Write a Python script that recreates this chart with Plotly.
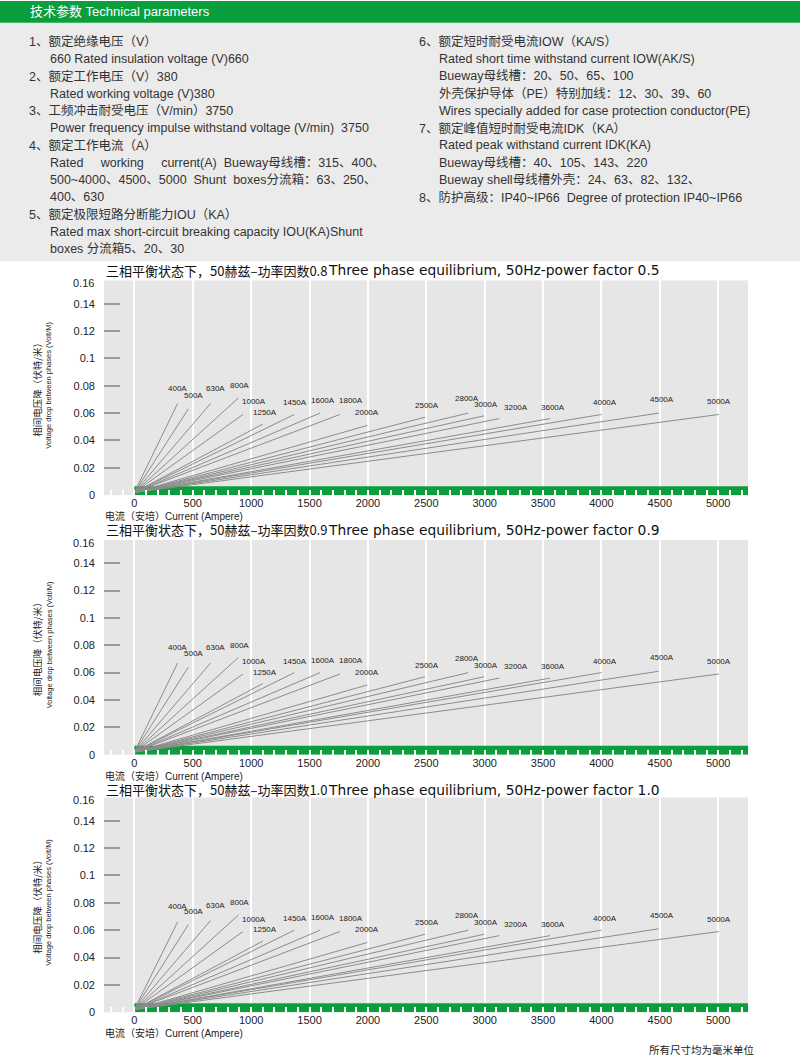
import plotly.graph_objects as go

W, H = 800, 1063

# ---------------- data ----------------
RATINGS = ["400A", "500A", "630A", "800A", "1000A", "1250A", "1450A", "1600A", "1800A",
           "2000A", "2500A", "2800A", "3000A", "3200A", "3600A", "4000A", "4500A", "5000A"]
END_CURRENT = [370, 462, 652, 890, 930, 1100, 1370, 1590, 1760,
               1995, 2490, 2860, 2995, 3125, 3560, 4000, 4490, 5005]
DROP_PF08 = [0.067, 0.063, 0.067, 0.071, 0.059, 0.052, 0.059, 0.060, 0.059,
             0.051, 0.057, 0.060, 0.058, 0.056, 0.056, 0.059, 0.060, 0.059]
DROP_PF09 = [0.067, 0.064, 0.067, 0.071, 0.059, 0.052, 0.060, 0.060, 0.059,
             0.051, 0.057, 0.060, 0.057, 0.056, 0.056, 0.060, 0.061, 0.059]
DROP_PF10 = [0.066, 0.064, 0.067, 0.071, 0.059, 0.052, 0.060, 0.060, 0.059,
             0.051, 0.057, 0.060, 0.057, 0.056, 0.056, 0.060, 0.061, 0.059]
ORIGIN_CURRENT = 0
ORIGIN_DROP = 0.002

X_TICKS = [0, 500, 1000, 1500, 2000, 2500, 3000, 3500, 4000, 4500, 5000]
Y_TICKS = [0, 0.02, 0.04, 0.06, 0.08, 0.1, 0.12, 0.14]
Y_TICK_TEXT = ["0", "0.02", "0.04", "0.06", "0.08", "0.1", "0.12", "0.14"]
Y_TOP_LABEL = "0.16"

CHART_TITLES_CN = ["三相平衡状态下，50赫兹–功率因数0.8", "三相平衡状态下，50赫兹–功率因数0.9",
                   "三相平衡状态下，50赫兹–功率因数1.0"]
CHART_TITLES_EN = ["Three phase equilibrium, 50Hz-power factor 0.5",
                   "Three phase equilibrium, 50Hz-power factor 0.9",
                   "Three phase equilibrium, 50Hz-power factor 1.0"]
Y_TITLE_CN = "相间电压降（伏特/米）"
Y_TITLE_EN = "Voltage drop between phases (Volt/M)"
X_TITLE = "电流（安培）Current (Ampere)"

HEADER = "技术参数 Technical parameters"
NB = "\u00a0"
LEFT_TEXT = [
    ("1、额定绝缘电压（V）", 0),
    ("660 Rated insulation voltage (V)660", 1),
    ("2、额定工作电压（V）380", 0),
    ("Rated working voltage (V)380", 1),
    ("3、工频冲击耐受电压（V/min）3750", 0),
    ("Power frequency impulse withstand voltage (V/min)" + NB * 2 + "3750", 1),
    ("4、额定工作电流（A）", 0),
    ("Rated" + NB * 5 + "working" + NB * 5 + "current(A)" + NB * 2 + "Bueway母线槽：315、400、", 1),
    ("500~4000、4500、5000" + NB * 2 + "Shunt" + NB * 2 + "boxes分流箱：63、250、", 1),
    ("400、630", 1),
    ("5、额定极限短路分断能力IOU（KA）", 0),
    ("Rated max short-circuit breaking capacity IOU(KA)Shunt", 1),
    ("boxes 分流箱5、20、30", 1),
]
RIGHT_TEXT = [
    ("6、额定短时耐受电流IOW（KA/S）", 0),
    ("Rated short time withstand current IOW(AK/S)", 1),
    ("Bueway母线槽：20、50、65、100", 1),
    ("外壳保护导体（PE）特别加线：12、30、39、60", 1),
    ("Wires specially added for case protection conductor(PE)", 1),
    ("7、额定峰值短时耐受电流IDK（KA）", 0),
    ("Rated peak withstand current IDK(KA)", 1),
    ("Bueway母线槽：40、105、143、220", 1),
    ("Bueway shell母线槽外壳：24、63、82、132、", 1),
    ("8、防护高级：IP40~IP66" + NB * 2 + "Degree of protection IP40~IP66", 0),
]
FOOTNOTE = "所有尺寸均为毫米单位"

# ---------------- style / layout ----------------
GREEN = "#0b9e3d"
PLOT_GRAY = "#e6e6e6"
BLOCK_GRAY = "#ebebeb"
LINE_GRAY = "#8c8c8c"
TEXT = "#333333"
FONT = "Liberation Sans, Arial, Noto Sans CJK SC, sans-serif"
CJK = "Noto Sans CJK SC, Liberation Sans, sans-serif"

# label offsets (px) relative to line end: (dx, dy up)
LABEL_OFF = [(0, 9), (5, 7), (5, 9), (1, 6), (11, 6), (2, 5), (1, 5), (3, 6), (11, 7),
             (0, 6), (2, 5), (-1, 8), (2, 5), (17, 5), (3, 5), (4, 5), (3, 7), (0, 6)]

X_RANGE = [-260, 5255]
Y_RANGE = [0, 0.157]
PLOT_LEFT, PLOT_RIGHT = 104, 748
CHART_TOPS = [282, 543, 802]
CHART_H = 216
BAR_PX = 9
TITLE_Y = [272, 533, 794]


def px(x):
    return x / W


def py(y):
    return 1 - y / H


fig = go.Figure()
annotations = []
shapes = []

# header + parameter block
shapes.append(dict(type="rect", xref="paper", yref="paper", x0=0, x1=1, y0=py(263), y1=py(23),
                   fillcolor=BLOCK_GRAY, line_width=0, layer="below"))
shapes.append(dict(type="rect", xref="paper", yref="paper", x0=0, x1=1, y0=py(23), y1=py(1),
                   fillcolor=GREEN, line_width=0, layer="below"))
annotations.append(dict(text=HEADER, x=px(28), y=py(12), xref="paper", yref="paper",
                        xanchor="left", yanchor="middle", showarrow=False,
                        font=dict(family=FONT, size=13, color="white")))

for i, (t, ind) in enumerate(LEFT_TEXT):
    annotations.append(dict(text=t, x=px(27 if ind == 0 else 48), y=py(42 + i * 17.35),
                            xref="paper", yref="paper", xanchor="left", yanchor="middle",
                            showarrow=False, font=dict(family=FONT, size=12.5, color=TEXT)))
for i, (t, ind) in enumerate(RIGHT_TEXT):
    annotations.append(dict(text=t, x=px(417 if ind == 0 else 437), y=py(42 + i * 17.35),
                            xref="paper", yref="paper", xanchor="left", yanchor="middle",
                            showarrow=False, font=dict(family=FONT, size=12.5, color=TEXT)))

drops = [DROP_PF08, DROP_PF09, DROP_PF10]
bar_h = BAR_PX / CHART_H * (Y_RANGE[1] - Y_RANGE[0])
for c in range(3):
    n = "" if c == 0 else str(c + 1)
    xa, ya = "x" + n, "y" + n
    top = CHART_TOPS[c]
    bottom = top + CHART_H
    fig.update_layout(**{
        "xaxis" + n: dict(domain=[px(PLOT_LEFT), px(PLOT_RIGHT)], range=X_RANGE, anchor=ya,
                          tickvals=X_TICKS, ticks="inside", ticklen=5, tickcolor="white",
                          tickwidth=1.5, showgrid=True, gridcolor="white", gridwidth=2,
                          zeroline=False, showline=False, layer="above traces",
                          minor=dict(dtick=100, tick0=0, ticks="inside",
                                     ticklen=5, tickcolor="white", tickwidth=1.5, showgrid=False),
                          tickfont=dict(family=FONT, size=11, color="#222"), fixedrange=True),
        "yaxis" + n: dict(domain=[py(bottom), py(top)], range=Y_RANGE, anchor=xa,
                          tickvals=Y_TICKS, ticktext=Y_TICK_TEXT, ticks="inside", ticklen=16,
                          tickcolor="#9a9a9a", tickwidth=1.5, showgrid=False, zeroline=False,
                          showline=False, ticklabelstandoff=8,
                          tickfont=dict(family=FONT, size=11, color="#222"), fixedrange=True),
    })
    # green bar (drawn as a filled trace so it sits above the white grid)
    fig.add_trace(go.Scatter(x=[0, X_RANGE[1], X_RANGE[1], 0, 0],
                             y=[Y_RANGE[0], Y_RANGE[0], bar_h, bar_h, Y_RANGE[0]],
                             mode="lines", fill="toself", fillcolor=GREEN,
                             line=dict(width=0, color=GREEN), xaxis=xa, yaxis=ya,
                             hoverinfo="skip", showlegend=False))
    # lines
    xs, ys = [], []
    for ex, ey in zip(END_CURRENT, drops[c]):
        xs += [ORIGIN_CURRENT, ex, None]
        ys += [ORIGIN_DROP, ey, None]
    fig.add_trace(go.Scatter(x=xs, y=ys, mode="lines", xaxis=xa, yaxis=ya,
                             line=dict(color=LINE_GRAY, width=1), hoverinfo="skip",
                             showlegend=False))
    for lab, ex, ey, (dx, dy) in zip(RATINGS, END_CURRENT, drops[c], LABEL_OFF):
        annotations.append(dict(text=lab, x=ex, y=ey, xref=xa, yref=ya, xshift=dx, yshift=dy,
                                xanchor="center", yanchor="bottom", showarrow=False,
                                font=dict(family=FONT, size=8, color="#222")))
    # titles
    annotations.append(dict(text=CHART_TITLES_CN[c], x=px(104), y=py(TITLE_Y[c]),
                            xref="paper", yref="paper", xanchor="left", yanchor="middle",
                            showarrow=False, font=dict(family=CJK, size=13, color="#111")))
    annotations.append(dict(text=CHART_TITLES_EN[c], x=px(326), y=py(TITLE_Y[c]),
                            xref="paper", yref="paper", xanchor="left", yanchor="middle",
                            showarrow=False, font=dict(family="DejaVu Sans", size=13.8, color="#111")))
    annotations.append(dict(text=Y_TOP_LABEL, x=px(96), y=py(top + 3), xref="paper", yref="paper",
                            xanchor="right", yanchor="middle", showarrow=False,
                            font=dict(family=FONT, size=11, color="#222")))
    annotations.append(dict(text=Y_TITLE_CN, x=px(37), y=py(top + 108), xref="paper", yref="paper",
                            xanchor="center", yanchor="middle", textangle=-90, showarrow=False,
                            font=dict(family=CJK, size=9.5, color="#222")))
    annotations.append(dict(text=Y_TITLE_EN, x=px(49), y=py(top + 106), xref="paper", yref="paper",
                            xanchor="center", yanchor="middle", textangle=-90, showarrow=False,
                            font=dict(family=FONT, size=7.5, color="#222")))
    annotations.append(dict(text=X_TITLE, x=px(103), y=py(bottom + 21), xref="paper", yref="paper",
                            xanchor="left", yanchor="middle", showarrow=False,
                            font=dict(family=FONT, size=10, color="#222")))

annotations.append(dict(text=FOOTNOTE, x=px(757), y=py(1055), xref="paper", yref="paper",
                        xanchor="right", yanchor="middle", showarrow=False,
                        font=dict(family=CJK, size=10.5, color="#222")))

fig.update_layout(width=W, height=H, margin=dict(l=0, r=0, t=0, b=0),
                  paper_bgcolor="white", plot_bgcolor=PLOT_GRAY, showlegend=False,
                  annotations=annotations, shapes=shapes)

fig.write_html("out.html", config={"displayModeBar": False},
               post_script="document.body.style.margin='0px';")
